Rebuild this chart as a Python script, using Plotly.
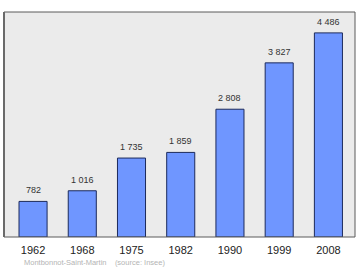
import plotly.graph_objects as go

years = ["1962", "1968", "1975", "1982", "1990", "1999", "2008"]
population = [782, 1016, 1735, 1859, 2808, 3827, 4486]
value_labels = ["782", "1 016", "1 735", "1 859", "2 808", "3 827", "4 486"]
footer = "Montbonnot-Saint-Martin    (source: Insee)"

fig = go.Figure()
fig.add_trace(go.Bar(
    x=years, y=population,
    marker=dict(color="#6f96ff", line=dict(color="#1c2a5c", width=1)),
    width=0.57,
))

annotations = [
    dict(x=i, y=v, text=lbl, xref="x", yref="y", showarrow=False,
         yanchor="bottom", yshift=4,
         font=dict(size=9, color="#333333"))
    for i, (v, lbl) in enumerate(zip(population, value_labels))
]
annotations.append(
    dict(text=footer, xref="paper", yref="paper", x=(22 - 4) / 351, y=-0.115,
         xanchor="left", yanchor="middle", showarrow=False,
         font=dict(size=7.5, color="#b4b4b4"))
)

fig.update_layout(
    width=360, height=270,
    margin=dict(l=4, r=5, t=12, b=33),
    paper_bgcolor="white",
    plot_bgcolor="#ebebeb",
    showlegend=False,
    font=dict(family="Liberation Sans, Arial, sans-serif"),
    xaxis=dict(type="category", range=[-0.59, 6.54], showgrid=False, zeroline=False,
               showline=False, ticks="", tickfont=dict(size=11, color="#222222"),
               ticklabelstandoff=5),
    yaxis=dict(range=[0, 4945], showgrid=False, zeroline=False, showticklabels=False,
               showline=False, ticks=""),
    shapes=[
        dict(type="rect", xref="paper", yref="paper", x0=0, x1=1, y0=0, y1=1,
             line=dict(color="#5a5a5a", width=1), layer="above"),
        dict(type="line", xref="paper", yref="paper", x0=0, x1=0, y0=0, y1=1,
             line=dict(color="#6a6a6a", width=2), layer="above"),
    ],
    annotations=annotations,
)

fig.write_html("out.html")
